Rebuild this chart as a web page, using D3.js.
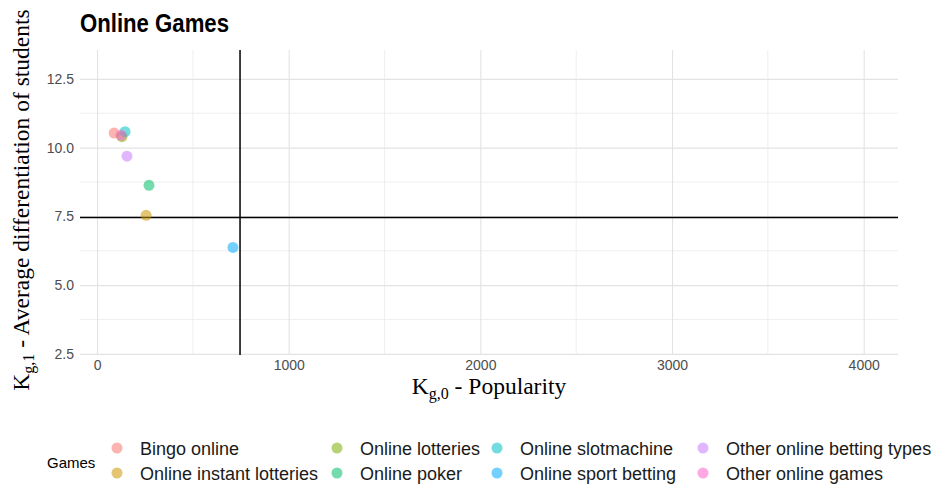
<!DOCTYPE html>
<html>
<head>
<meta charset="utf-8">
<script src="https://cdn.jsdelivr.net/npm/d3@7"></script>
<style>
  body { margin: 0; background: #fff; }
  text { font-family: "Liberation Sans", Arial, sans-serif; }
</style>
</head>
<body>
<script>
// data
const games = ["Bingo online", "Online instant lotteries", "Online lotteries", "Online poker",
  "Online slotmachine", "Online sport betting", "Other online betting types", "Other online games"];
const popularity = [89, 256, 130, 271, 146, 709, 156, 125];
const differentiation = [10.53, 7.54, 10.40, 8.63, 10.58, 6.37, 9.69, 10.45];
const colors = ["#F8766D", "#CD9600", "#7CAE00", "#00BE67", "#00BFC4", "#00A9FF", "#C77CFF", "#FF61CC"];
const xTicks = [0, 1000, 2000, 3000, 4000];
const yTicks = [2.5, 5.0, 7.5, 10.0, 12.5];
const xMean = 746;
const yMean = 7.46;

const W = 935, H = 490;
const panel = { left: 80, right: 898, top: 50, bottom: 355 };

const svg = d3.select('body').append('svg')
  .attr('width', W)
  .attr('height', H);

const x = d3.scaleLinear().domain([-89, 4179]).range([panel.left, panel.right]);
const y = d3.scaleLinear().domain([2.46, 13.55]).range([panel.bottom, panel.top]);
const color = d3.scaleOrdinal().domain(games).range(colors);

// grid (minor then major)
const grid = svg.append('g');
const xMinor = [500, 1500, 2500, 3500];
const yMinor = [3.75, 6.25, 8.75, 11.25];
grid.selectAll('.xminor').data(xMinor).join('line')
  .attr('x1', d => x(d)).attr('x2', d => x(d))
  .attr('y1', panel.top).attr('y2', panel.bottom)
  .attr('stroke', '#ebebeb').attr('stroke-width', 0.8);
grid.selectAll('.yminor').data(yMinor).join('line')
  .attr('y1', d => y(d)).attr('y2', d => y(d))
  .attr('x1', panel.left).attr('x2', panel.right)
  .attr('stroke', '#ebebeb').attr('stroke-width', 0.8);

const xAxis = svg.append('g')
  .attr('transform', `translate(0,${panel.bottom})`)
  .call(d3.axisBottom(x).tickValues(xTicks).tickFormat(d3.format('d'))
    .tickSize(-(panel.bottom - panel.top)).tickPadding(5));
const yAxis = svg.append('g')
  .attr('transform', `translate(${panel.left},0)`)
  .call(d3.axisLeft(y).tickValues(yTicks).tickFormat(d3.format('.1f'))
    .tickSize(-(panel.right - panel.left)).tickPadding(6));

[xAxis, yAxis].forEach(a => {
  a.select('.domain').remove();
  a.selectAll('.tick line').attr('stroke', '#e3e3e3').attr('stroke-width', 1.1);
  a.selectAll('.tick text').attr('fill', '#4d4d4d').style('font-size', '14px');
});

// reference lines
svg.append('line')
  .attr('x1', x(xMean)).attr('x2', x(xMean))
  .attr('y1', panel.top).attr('y2', panel.bottom)
  .attr('stroke', '#000').attr('stroke-width', 1.5);
svg.append('line')
  .attr('x1', panel.left).attr('x2', panel.right)
  .attr('y1', y(yMean)).attr('y2', y(yMean))
  .attr('stroke', '#000').attr('stroke-width', 1.5);

// points
const pts = games.map((g, i) => ({ game: g, px: popularity[i], dy: differentiation[i] }));
svg.append('g').selectAll('circle')
  .data(pts)
  .join('circle')
  .attr('cx', d => x(d.px))
  .attr('cy', d => y(d.dy))
  .attr('r', 5.5)
  .attr('fill', d => color(d.game))
  .attr('fill-opacity', 0.55);

// title
svg.append('text')
  .attr('x', 80).attr('y', 32)
  .style('font-size', '25px').style('font-weight', 'bold')
  .attr('textLength', 149).attr('lengthAdjust', 'spacingAndGlyphs')
  .attr('fill', '#000')
  .text('Online Games');

// axis titles
const xt = svg.append('text')
  .attr('x', 489).attr('y', 394)
  .attr('text-anchor', 'middle')
  .style('font-family', '"Liberation Serif", serif').style('font-size', '23.5px')
  .attr('fill', '#000');
xt.append('tspan').text('K');
xt.append('tspan').attr('dy', 5).style('font-size', '16px').text('g,0');
xt.append('tspan').attr('dy', -5).text(' - Popularity');

const yt = svg.append('text')
  .attr('transform', 'translate(29,200) rotate(-90)')
  .attr('text-anchor', 'middle')
  .style('font-family', '"Liberation Serif", serif').style('font-size', '23.5px')
  .attr('fill', '#000');
yt.append('tspan').text('K');
yt.append('tspan').attr('dy', 5).style('font-size', '16px').text('g,1');
yt.append('tspan').attr('dy', -5).text(' - Average differentiation of students');

// legend
const legend = svg.append('g');
legend.append('text')
  .attr('x', 47).attr('y', 468)
  .style('font-size', '15px').attr('fill', '#000')
  .text('Games');
const colX = [117, 337, 497, 703];
const rowY = [448, 473];
const item = legend.selectAll('.item')
  .data(games)
  .join('g')
  .attr('transform', (d, i) => `translate(${colX[Math.floor(i / 2)]},${rowY[i % 2]})`);
item.append('circle')
  .attr('r', 5.5)
  .attr('fill', d => color(d))
  .attr('fill-opacity', 0.55);
item.append('text')
  .attr('x', 23).attr('y', 6.5)
  .style('font-size', '18px').attr('fill', '#1a1a1a')
  .text(d => d);
</script>
</body>
</html>
